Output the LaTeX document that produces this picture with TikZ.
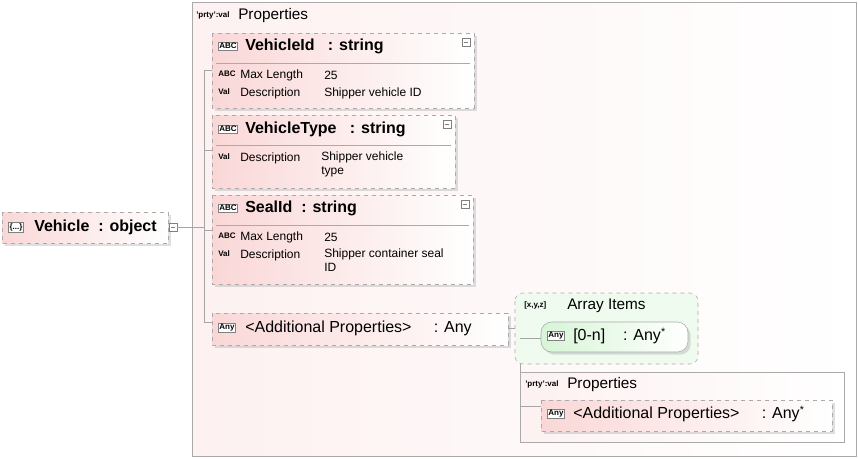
\documentclass[tikz,border=0pt]{standalone}
\usepackage{fontspec}
\setmainfont{Liberation Sans}
\usetikzlibrary{positioning,shadows}
\definecolor{edgegray}{RGB}{170,170,170}
\definecolor{pinkbox}{RGB}{250,215,215}
\definecolor{greenbox}{RGB}{215,245,215}
\tikzset{
  propbox/.style={draw=edgegray,dashed,left color=pinkbox,right color=white,drop shadow={opacity=0.25,shadow xshift=2pt,shadow yshift=-2pt}},
  contbox/.style={draw=edgegray,left color=pinkbox!35,right color=white},
  greencont/.style={draw=edgegray,dashed,rounded corners=6pt,fill=greenbox!40},
  greennode/.style={draw=edgegray,rounded corners=8pt,left color=greenbox,right color=white,drop shadow={opacity=0.25,shadow xshift=2pt,shadow yshift=-2pt}},
  wire/.style={draw=gray!70},
  icon/.style={draw=gray,fill=white,inner sep=0.8pt,font=\fontsize{6}{6}\selectfont\bfseries},
  tag/.style={font=\fontsize{6}{6}\selectfont\bfseries,inner sep=0pt},
  title/.style={font=\fontsize{12}{12}\selectfont\bfseries,anchor=west,inner sep=0pt},
  plaintitle/.style={font=\fontsize{12}{12}\selectfont,anchor=west,inner sep=0pt},
  subtitle/.style={font=\fontsize{11.5}{11.5}\selectfont,anchor=west,inner sep=0pt},
  row/.style={font=\fontsize{9}{10}\selectfont,anchor=west,inner sep=0pt,align=left},
  minus/.style={draw=gray,fill=white,minimum size=6pt,inner sep=0pt,path picture={\draw[gray] ([xshift=1.2pt]path picture bounding box.west) -- ([xshift=-1.2pt]path picture bounding box.east);}}
}
\begin{document}
\begin{tikzpicture}[x=0.75pt,y=-0.75pt]
  \useasboundingbox (0,0) rectangle (858,458);

  % outer properties container
  \draw[contbox] (192,2) rectangle (856,456);
  \node[tag,anchor=west] (ptag) at (196,15) {'prty':val};
  \node[subtitle] (ptitle) at (238,16) {Properties};

  % root node
  \draw[propbox] (2,212) rectangle (168,243);
  \node[icon] (vicon) at (16,227) {\{...\}};
  \node[title] (vehicle) at (34,227) {Vehicle\ \ : object};
  \node[minus] (vminus) at (173,227) {};

  % VehicleId
  \draw[propbox] (212,33) rectangle (474,108);
  \draw[edgegray] (216,63) -- (470,63);
  \node[icon] at (228,46) {ABC};
  \node[title] (vid) at (245,46) {VehicleId\ \ \ : string};
  \node[minus] at (466,42) {};
  \node[tag,anchor=west] at (218,74) {ABC};
  \node[row] at (240,75) {Max Length};
  \node[row] at (324,75) {25};
  \node[tag,anchor=west] at (218,92) {Val};
  \node[row] at (240,93) {Description};
  \node[row] at (324,93) {Shipper vehicle ID};

  % VehicleType
  \draw[propbox] (212,115) rectangle (455,188);
  \draw[edgegray] (216,145) -- (451,145);
  \node[icon] at (228,129) {ABC};
  \node[title] (vtype) at (245,129) {VehicleType\ \ \ : string};
  \node[minus] at (447,124) {};
  \node[tag,anchor=west] at (218,157) {Val};
  \node[row] at (240,158) {Description};
  \node[row,anchor=north west] at (321,152) {Shipper vehicle\\type};

  % SealId
  \draw[propbox] (212,195) rectangle (473,284);
  \draw[edgegray] (216,225) -- (469,225);
  \node[icon] at (228,208) {ABC};
  \node[title] (sid) at (245,208) {SealId\ \ : string};
  \node[minus] at (465,204) {};
  \node[tag,anchor=west] at (218,236) {ABC};
  \node[row] at (240,237) {Max Length};
  \node[row] at (324,237) {25};
  \node[tag,anchor=west] at (218,254) {Val};
  \node[row] at (240,255) {Description};
  \node[row,anchor=north west] at (324,249) {Shipper container seal\\ID};

  % additional properties
  \draw[propbox] (212,313) rectangle (508,345);
  \node[icon] at (227,328) {Any};
  \node[plaintitle] (addp) at (245,328) {<Additional Properties>\ \ \ \ \ : Any};

  % tree wires
  \draw[wire] (vminus.east) -- (204,227);
  \draw[wire] (204,70) -- (204,322);
  \foreach \y in {70,150,230,322} \draw[wire] (204,\y) -- (212,\y);
  \draw[wire] (508,328) -- (520,328) -- (520,406);

  % array items
  \draw[greencont] (515,293) rectangle (698,364);
  \node[tag,anchor=west] at (524,305) {[x,y,z]};
  \node[subtitle] (aitems) at (567,306) {Array Items};
  \draw[greennode] (541,322) rectangle (688,352);
  \node[icon] at (556,336) {Any};
  \node[plaintitle] (anyn) at (573,336) {[0-n]\ \ \ \ : Any\textsuperscript{*}};
  \draw[wire] (520,338) -- (541,338);

  % inner properties
  \draw[contbox] (520,372) rectangle (844,442);
  \node[tag,anchor=west] at (525,384) {'prty':val};
  \node[subtitle] (ptitle2) at (567,385) {Properties};
  \draw[propbox] (541,400) rectangle (832,431);
  \node[icon] at (556,414) {Any};
  \node[plaintitle] (addp2) at (573,414) {<Additional Properties>\ \ \ \ \ : Any\textsuperscript{*}};
  \draw[wire] (520,406) -- (541,406);
\end{tikzpicture}
\end{document}
